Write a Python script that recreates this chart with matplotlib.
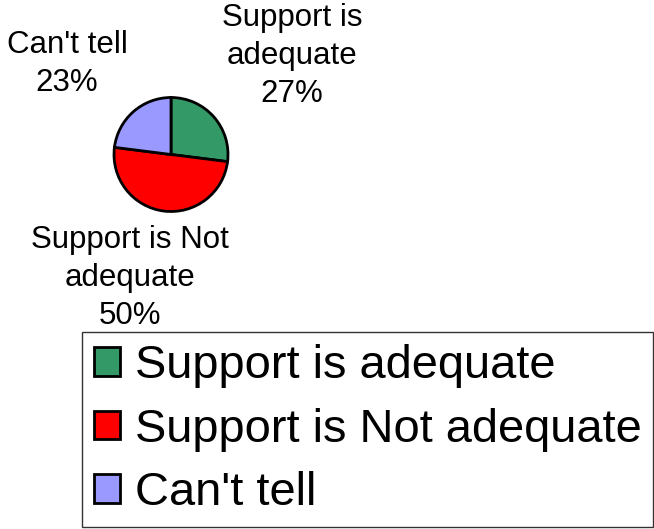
import matplotlib.pyplot as plt

plt.rcParams['font.family'] = ['Liberation Sans', 'DejaVu Sans']

LABELS = ['Support is adequate', 'Support is Not adequate', "Can't tell"]
PIE_LABELS = ['Support is\nadequate\n27%', 'Support is Not\nadequate\n50%', "Can't tell\n23%"]
VALUES = [27, 50, 23]
COLORS = ['#339966', '#FF0000', '#9999FF']

W, H = 654, 529
fig = plt.figure(figsize=(W / 100, H / 100), dpi=100)
ax = fig.add_axes([0, 0, 1, 1])

cx, cy, r = 171, H - 154.5, 57
wedges, _ = ax.pie(VALUES, colors=COLORS, startangle=90, counterclock=False,
                   center=(cx, cy), radius=r, frame=True,
                   wedgeprops=dict(edgecolor='black', linewidth=2))
ax.set_xlim(0, W)
ax.set_ylim(0, H)
ax.set_aspect('equal')
ax.axis('off')

# label spots (pixels from top-left)
label_pos = [(292, 56), (130, 278), (67, 64)]
for txt, (x, y) in zip(PIE_LABELS, label_pos):
    ax.text(x, H - y, txt, ha='center', va='center', fontsize=22.5,
            linespacing=1.36)

leg = ax.legend(wedges, LABELS, loc='lower right',
                bbox_to_anchor=(653 / W, 2 / H), bbox_transform=fig.transFigure,
                fontsize=33.8, frameon=True, fancybox=False, edgecolor='black',
                handlelength=0.56, handleheight=0.56, handletextpad=0.3,
                borderpad=0.25, labelspacing=0.42, borderaxespad=0)
leg.get_frame().set_linewidth(1.0)
for h in leg.legend_handles:
    h.set_linewidth(2)

fig.savefig('out.png', dpi=100)
